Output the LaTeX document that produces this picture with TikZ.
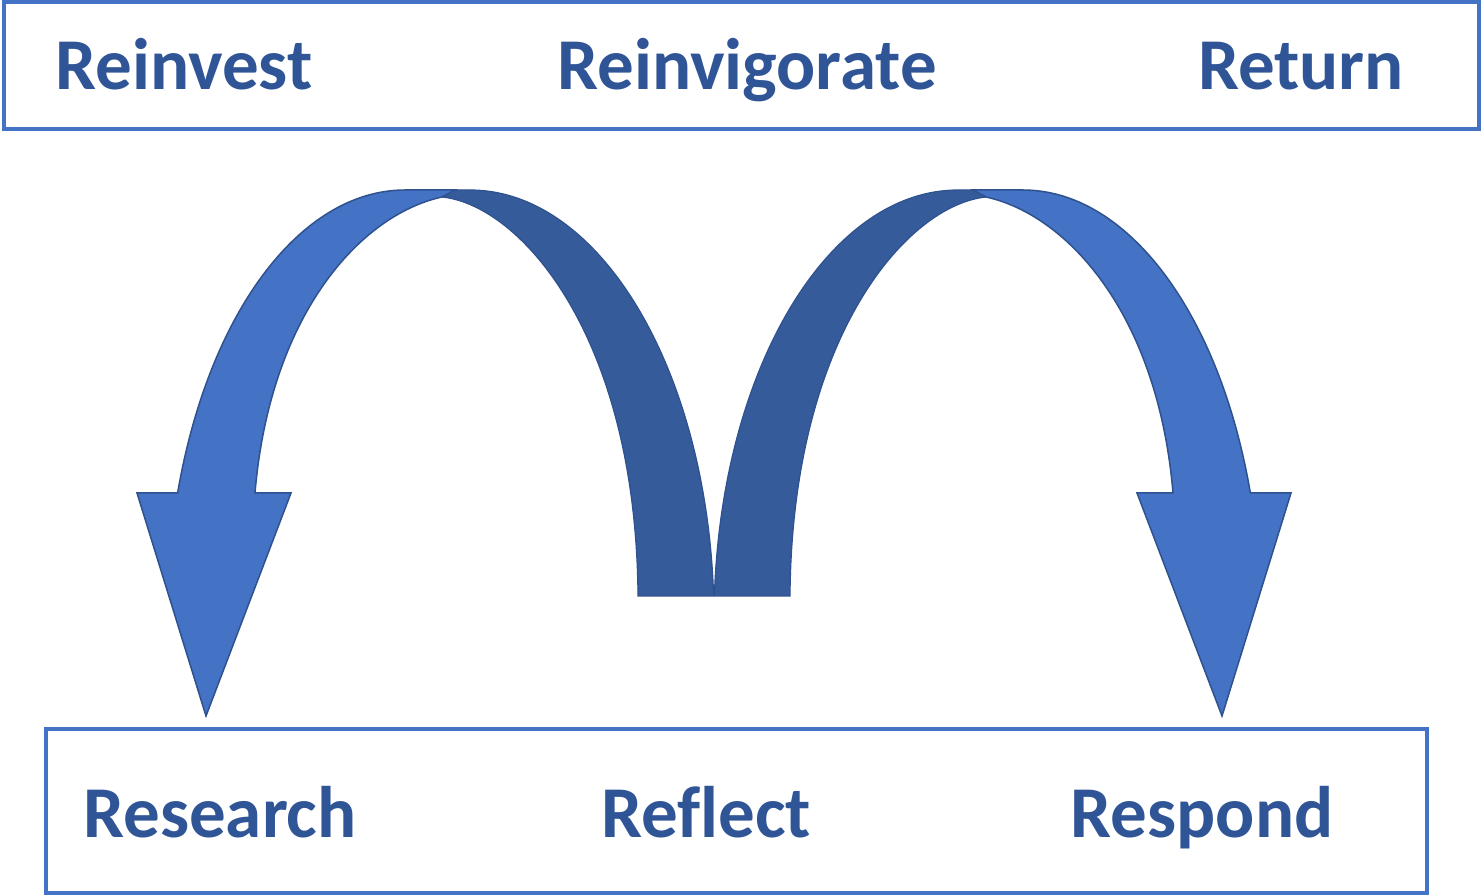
\documentclass[tikz,border=0pt]{standalone}
\usepackage{fontspec}
\setmainfont{Carlito}[Ligatures=NoCommon]
\usetikzlibrary{calc}

\definecolor{boxblue}{HTML}{4472C4}
\definecolor{arcdark}{HTML}{355B9A}
\definecolor{edgeblue}{HTML}{2F528F}
\definecolor{wordblue}{HTML}{2F5597}

\begin{document}
\begin{tikzpicture}[x=1pt,y=1pt]
  \tikzstyle{frame} = [draw=boxblue, line width=4pt]
  \tikzstyle{word} = [text=wordblue, font=\fontsize{73}{80}\selectfont\bfseries, inner sep=0pt, anchor=base]
  \tikzstyle{front} = [fill=boxblue, draw=edgeblue, line width=1.5pt, line join=miter]
  \tikzstyle{back} = [fill=arcdark, draw=edgeblue, line width=1.2pt]
  \useasboundingbox (0,0) rectangle (1481,895);

  \draw[frame] (4,766) rectangle (1479,893);
  \draw[frame] (46,2) rectangle (1427,166);

  \node[word] (reinvest) at (184,805) {Reinvest};
  \node[word] (reinvigorate) at (747,805) {Reinvigorate};
  \node[word] (return) at (1301,805) {Return};
  \node[word] (research) at (220,58) {Research};
  \node[word] (reflect) at (706,58) {Reflect};
  \node[word] (respond) at (1202,58) {Respond};

  \foreach \side/\shift in {1/0, -1/1428} {
    \begin{scope}[xshift=\shift, xscale=\side]
      \filldraw[back] (420,705) -- (470,705)
        arc[start angle=90, end angle=3.2, x radius=244, y radius=430]
        -- (638,299) .. controls (636,560) and (520,690) .. (442,698) -- cycle;
      \filldraw[front] (137,402) -- ($(405,275)+(162.82:238 and 430)$)
        arc[start angle=162.82, end angle=90, x radius=238, y radius=430]
        -- (455,705) -- (442,698)
        .. controls (360,680) and (270,580) .. (255,402)
        -- (291,402) -- (206,179) -- cycle;
    \end{scope}
  }
\end{tikzpicture}
\end{document}
